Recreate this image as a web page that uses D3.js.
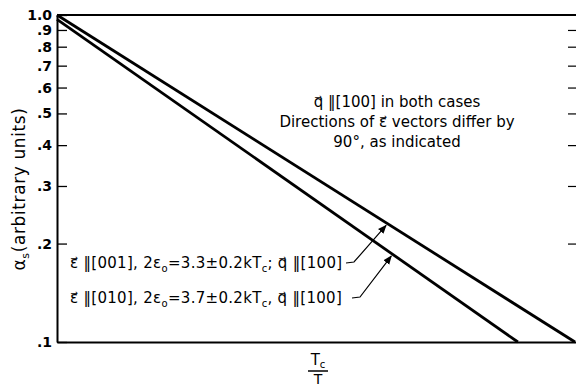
<!DOCTYPE html>
<html><head><meta charset="utf-8">
<script src="https://cdn.jsdelivr.net/npm/d3@7"></script>
<style>
body{margin:0;background:#fff}
svg{display:block}
text{font-family:"DejaVu Sans",sans-serif;fill:#000}
</style>
</head><body>
<svg id="chart" width="576" height="388"></svg>
<script>
// Fitted lines: Tc/T at each end and the absorption alpha_s there
const e001X = [0, 0.998];
const e001Y = [1.0, 0.1];
const e010X = [0, 0.888];
const e010Y = [0.97, 0.1];
const yTickValues = [1.0, 0.9, 0.8, 0.7, 0.6, 0.5, 0.4, 0.3, 0.2, 0.1];
const yTickLabels = ["1.0", ".9", ".8", ".7", ".6", ".5", ".4", ".3", ".2", ".1"];
// Tc/T where each leader arrow meets its line
const arrowAtX = [0.636, 0.646];

const PAR = "\u2016";

const svg = d3.select("#chart");
const plotL = 57, plotR = 576, plotT = 15, plotB = 342;
const x = d3.scaleLinear().domain([0, 1]).range([plotL, plotR]);
const y = d3.scaleLog().domain([0.1, 1]).range([plotB, plotT]);

// left axis with inward ticks
const yAxis = d3.axisLeft(y).tickValues(yTickValues)
  .tickFormat((d, i) => yTickLabels[i]).tickSizeInner(-10).tickSizeOuter(0).tickPadding(5);
const gy = svg.append("g").attr("transform", `translate(${plotL},0)`).call(yAxis);
gy.select(".domain").attr("stroke-width", 2);
gy.selectAll(".tick line").attr("stroke-width", 1.3);
gy.selectAll(".tick text").attr("font-size", 14).attr("font-weight", "bold").attr("font-family", "DejaVu Sans");

// right-hand ticks only
const yAxisR = d3.axisRight(y).tickValues(yTickValues.slice(1, 9))
  .tickFormat("").tickSizeInner(-8).tickSizeOuter(0);
const gyr = svg.append("g").attr("transform", `translate(${plotR},0)`).call(yAxisR);
gyr.select(".domain").remove();
gyr.selectAll(".tick line").attr("stroke-width", 1.2);

// bottom and top frame lines
const xAxis = d3.axisBottom(x).tickValues([]).tickSizeOuter(0);
svg.append("g").attr("transform", `translate(0,${plotB})`).call(xAxis)
  .select(".domain").attr("stroke-width", 2);
svg.append("line").attr("x1", plotL).attr("x2", plotR).attr("y1", plotT).attr("y2", plotT)
  .attr("stroke", "#000").attr("stroke-width", 2);

// data lines
const line = d3.line().x(d => x(d[0])).y(d => y(d[1]));
const series = [d3.zip(e001X, e001Y), d3.zip(e010X, e010Y)];
svg.selectAll("path.series").data(series).join("path")
  .attr("class", "series").attr("d", line)
  .attr("fill", "none").attr("stroke", "#000").attr("stroke-width", 2.8);

// y label
const yl = svg.append("text").attr("transform", "translate(25,189) rotate(-90)")
  .attr("text-anchor", "middle").attr("font-size", 17).attr("letter-spacing", 0.6);
yl.append("tspan").text("α");
yl.append("tspan").attr("font-size", 11).attr("dy", 4).text("s");
yl.append("tspan").attr("dy", -4).text("(arbitrary units)");

// note
const note = svg.append("text").attr("text-anchor", "middle").attr("font-size", 15);
note.append("tspan").attr("x", 397).attr("y", 107).text(`q\u20D7 ${PAR}[100] in both cases`);
note.append("tspan").attr("x", 397).attr("y", 127).text("Directions of \u03B5\u20D7 vectors differ by");
note.append("tspan").attr("x", 397).attr("y", 147).text("90°, as indicated");

// line labels
function lineLabel(yb, val, sep, dir) {
  const t = svg.append("text").attr("x", 70).attr("y", yb).attr("font-size", 15).attr("letter-spacing", 0.3);
  t.append("tspan").text(`\u03B5\u20D7 ${PAR}[${dir}], 2\u03B5`);
  t.append("tspan").attr("font-size", 10).attr("dy", 4).text("o");
  t.append("tspan").attr("dy", -4).text(`=${val}±0.2kT`);
  t.append("tspan").attr("font-size", 10).attr("dy", 4).text("c");
  t.append("tspan").attr("dy", -4).text(`${sep} q\u20D7 ${PAR}[100]`);
  return t;
}
lineLabel(268, "3.3", ";", "001");
lineLabel(303, "3.7", ",", "010");

// arrowheads
svg.append("defs").append("marker").attr("id", "ah").attr("viewBox", "0 0 10 10")
  .attr("refX", 9).attr("refY", 5).attr("markerWidth", 9).attr("markerHeight", 9)
  .attr("orient", "auto").attr("markerUnits", "userSpaceOnUse")
  .append("path").attr("d", "M0,1 L10,5 L0,9 Z").attr("fill", "#000");

function onLine(xs, ys, xv) {
  const l = d3.scaleLinear().domain(xs).range(ys.map(Math.log10));
  return Math.pow(10, l(xv));
}
const tips = [
  [x(arrowAtX[0]), y(onLine(e001X, e001Y, arrowAtX[0]))],
  [x(arrowAtX[1]), y(onLine(e010X, e010Y, arrowAtX[1]))]
];
const starts = [[346, 263], [352, 298]];
tips.forEach((tp, i) => {
  const s = starts[i];
  svg.append("path")
    .attr("d", `M${s[0]},${s[1]} L${s[0] + 8},${s[1] - 1} L${tp[0] - 1},${tp[1] + 2}`)
    .attr("fill", "none").attr("stroke", "#000").attr("stroke-width", 1.2)
    .attr("marker-end", "url(#ah)");
});

// Tc/T axis label
const fx = 318;
const num = svg.append("text").attr("x", fx).attr("y", 365).attr("text-anchor", "middle").attr("font-size", 15);
num.append("tspan").text("T");
num.append("tspan").attr("font-size", 10).attr("dy", 3).text("c");
svg.append("line").attr("x1", fx - 10).attr("x2", fx + 10).attr("y1", 371).attr("y2", 371)
  .attr("stroke", "#000").attr("stroke-width", 1.5);
svg.append("text").attr("x", fx).attr("y", 384).attr("text-anchor", "middle").attr("font-size", 14).text("T");
</script>
</body></html>
